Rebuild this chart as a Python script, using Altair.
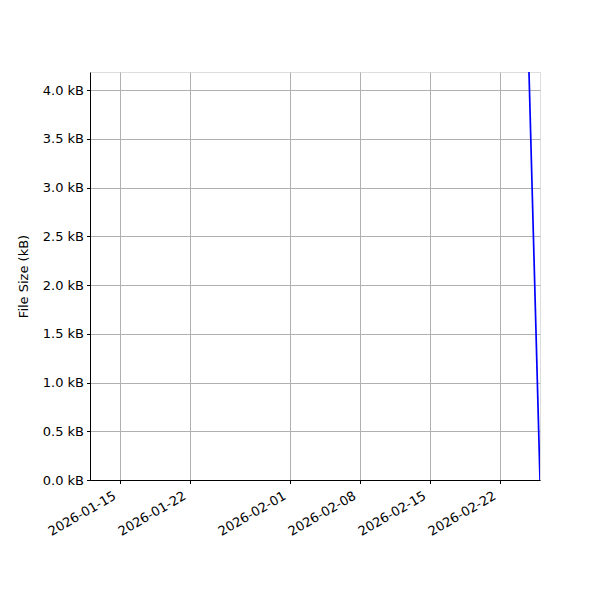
import altair as alt
import pandas as pd

dates = ["2026-02-24T00:00:00Z", "2026-02-26T00:00:00Z"]
sizes_kb = [7.6, 0.0]

tick_dates = [(2026, 1, 15), (2026, 1, 22), (2026, 2, 1), (2026, 2, 8), (2026, 2, 15), (2026, 2, 22)]
y_ticks = [0.0, 0.5, 1.0, 1.5, 2.0, 2.5, 3.0, 3.5, 4.0]
x_domain = [(2026, 1, 12), (2026, 2, 26)]
y_domain = [0.0, 4.185]

df = pd.DataFrame({"date": dates, "size": sizes_kb})

font = "DejaVu Sans"

x_axis = alt.Axis(
    values=[alt.DateTime(year=y, month=m, date=d, utc=True) for (y, m, d) in tick_dates],
    format="%Y-%m-%d",
    labelAngle=-30, labelAlign="right", labelBaseline="bottom",
    labelFont=font, labelFontSize=13, labelColor="black",
    tickColor="black", tickSize=3.5, domainColor="black",
    gridColor="#b0b0b0", gridWidth=1, grid=True, title=None,
    labelPadding=17, labelOffset=-2, labelOverlap=False,
)

y_axis = alt.Axis(
    values=y_ticks,
    labelExpr="format(datum.value, '.1f') + ' kB'",
    labelFont=font, labelFontSize=13, labelColor="black",
    tickColor="black", tickSize=3.5, domainColor="black",
    gridColor="#b0b0b0", gridWidth=1, grid=True,
    title="File Size (kB)", titleFont=font, titleFontSize=13,
    titleFontWeight="normal", titleColor="black", titlePadding=12,
    labelPadding=3,
)

chart = alt.Chart(df).mark_line(color="#0000ff", strokeWidth=1.7, clip=True).encode(
    x=alt.X("date:T",
            scale=alt.Scale(type="utc",
                            domain=[alt.DateTime(year=y, month=m, date=d, utc=True) for (y, m, d) in x_domain],
                            nice=False),
            axis=x_axis),
    y=alt.Y("size:Q", scale=alt.Scale(domain=y_domain, nice=False, zero=True), axis=y_axis),
).properties(
    width=450, height=408,
    autosize=alt.AutoSizeParams(type="none"),
    padding={"left": 82, "top": 64, "right": 52, "bottom": 112},
).configure_view(
    stroke="black", strokeWidth=1
).configure(background="white")

chart.save("out.html", embed_options={"renderer": "svg", "actions": False})
